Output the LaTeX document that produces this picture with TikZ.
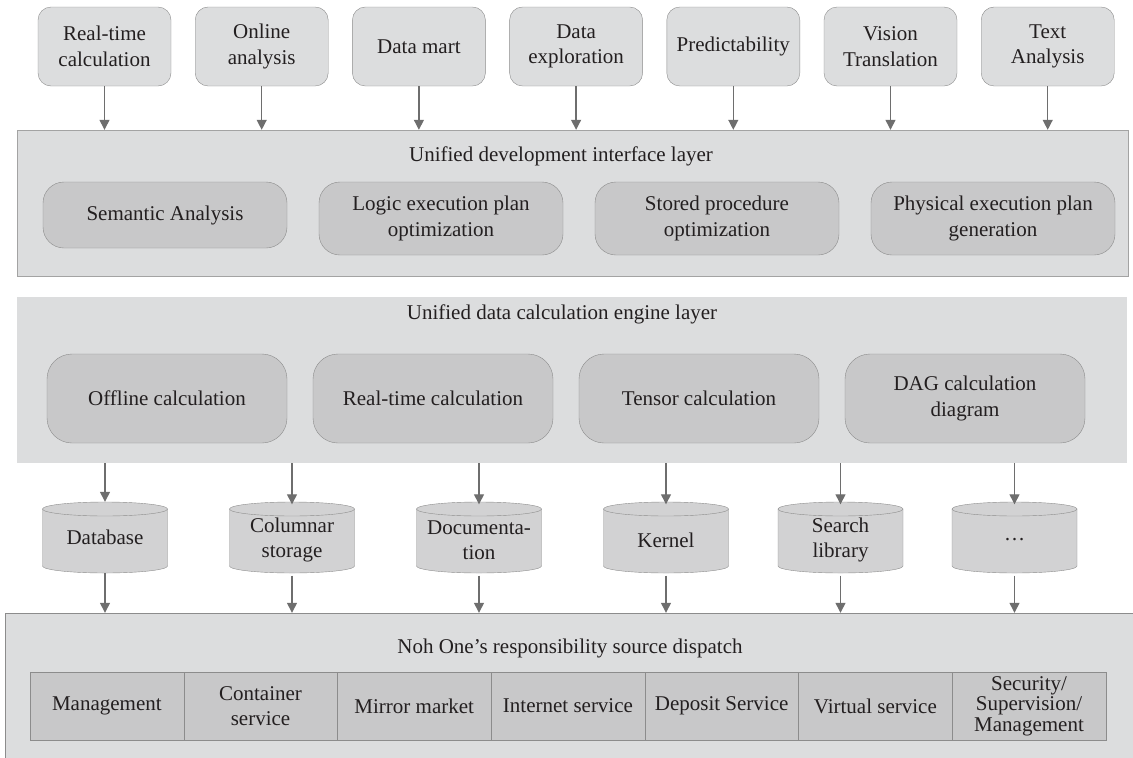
\documentclass[tikz,border=0pt]{standalone}
\usepackage{fontspec}
\setmainfont{Liberation Serif}
\usetikzlibrary{arrows.meta}
\definecolor{layerfill}{HTML}{DCDDDE}
\definecolor{innerfill}{HTML}{C8C8C9}
\definecolor{cylfill}{HTML}{D2D2D3}
\definecolor{edgec}{HTML}{8C8C8C}
\definecolor{arrowc}{HTML}{6E6E6E}
\definecolor{txt}{HTML}{231F20}
\newcommand{\fsz}{\fontsize{21}{25.5}\selectfont}
\begin{document}
\begin{tikzpicture}[x=1pt,y=-1pt,
  every node/.style={text=txt, font=\fsz, inner sep=0pt, align=center},
  topbox/.style={draw=edgec, fill=layerfill, rounded corners=13pt, minimum width=133pt, minimum height=79pt},
  layerbox/.style={fill=layerfill},
  innerA/.style={draw=edgec, fill=innerfill, rounded corners=21pt, minimum width=244pt},
  innerB/.style={draw=edgec, fill=innerfill, rounded corners=25pt, minimum width=240pt, minimum height=89pt},
  cylnode/.style={minimum width=125pt, minimum height=71pt},
  cell/.style={draw=edgec, fill=innerfill, minimum width=153.7pt, minimum height=68pt},
  arr/.style={draw=arrowc, line width=1.3pt, -{Triangle[length=10pt,width=10pt]}},
  title/.style={anchor=base}
]
\useasboundingbox (0,0) rectangle (1133,758);

% layers
\node[layerbox, draw=edgec!80, minimum width=1111pt, minimum height=146pt] (L1) at (572.5,203) {};
\node[layerbox, minimum width=1110pt, minimum height=166pt] (L2) at (572,380) {};
\node[layerbox, draw=edgec, minimum width=1135pt, minimum height=157pt] (L3) at (572.5,691.5) {};

\node[title] (T1) at (561,161) {Unified development interface layer};
\node[title] (T2) at (562,319) {Unified data calculation engine layer};
\node[title] (T3) at (570,653) {Noh One’s responsibility source dispatch};

% top boxes
\node[topbox] (a1) at (104.5,46.5) {Real-time\\calculation};
\node[topbox] (a2) at (261.7,46.5) {Online\\analysis};
\node[topbox] (a3) at (418.9,46.5) {Data mart};
\node[topbox] (a4) at (576.1,46.5) {Data\\exploration};
\node[topbox] (a5) at (733.3,46.5) {Predictability};
\node[topbox] (a6) at (890.5,46.5) {Vision\\Translation};
\node[topbox] (a7) at (1047.7,46.5) {Text\\Analysis};
\foreach \i in {1,...,7}{
  \draw[arr] (a\i.south) -- (a\i.south |- L1.north);
}

% layer 1 inner boxes
\node[innerA, minimum height=66pt] (b1) at (165,215) {Semantic Analysis};
\node[innerA, minimum height=73pt] (b2) at (441,218.5) {Logic execution plan\\optimization};
\node[innerA, minimum height=73pt] (b3) at (717,218.5) {Stored procedure\\optimization};
\node[innerA, minimum height=73pt] (b4) at (993,218.5) {Physical execution plan\\generation};

% layer 2 inner boxes
\node[innerB] (e1) at (167,398.5) {Offline calculation};
\node[innerB] (e2) at (433,398.5) {Real-time calculation};
\node[innerB] (e3) at (699,398.5) {Tensor calculation};
\node[innerB] (e4) at (965,398.5) {DAG calculation\\diagram};

% cylinders (shapes)
\foreach \x in {105,292,479,666,840.5,1014.5}{
  \path[draw=edgec, fill=cylfill] (\x-62.5,509) -- (\x-62.5,566)
    arc[start angle=180, end angle=360, x radius=62.5pt, y radius=7pt]
    -- (\x+62.5,509)
    arc[start angle=0, end angle=180, x radius=62.5pt, y radius=7pt] -- cycle;
  \draw[edgec] (\x-62.5,509) arc[start angle=180, end angle=360, x radius=62.5pt, y radius=7pt];
}
\node[cylnode] (c1) at (105,537.5) {Database};
\node[cylnode] (c2) at (292,540) {Columnar\\storage};
\node[cylnode] (c3) at (479,540) {Documenta-\\tion};
\node[cylnode] (c4) at (666,540) {Kernel};
\node[cylnode] (c5) at (840.5,540) {Search\\library};
\node[cylnode] (c6) at (1014.5,540) {\dots};
\foreach \i in {1,...,6}{
  \draw[arr] (c\i.north |- L2.south) -- (c\i.north);
  \draw[arr] (c\i.south) -- (c\i.south |- L3.north);
}

% table
\node[cell] (d1) at (106.85,706) {Management};
\node[cell] (d2) at (260.55,706) {Container\\service};
\node[cell] (d3) at (414.25,706) {Mirror market};
\node[cell] (d4) at (567.95,706) {Internet service};
\node[cell] (d5) at (721.65,706) {Deposit Service};
\node[cell] (d6) at (875.35,706) {Virtual service};
\node[cell, font=\fontsize{21}{20.5}\selectfont] (d7) at (1029.05,706) {Security/\\Supervision/\\Management};
\end{tikzpicture}
\end{document}
